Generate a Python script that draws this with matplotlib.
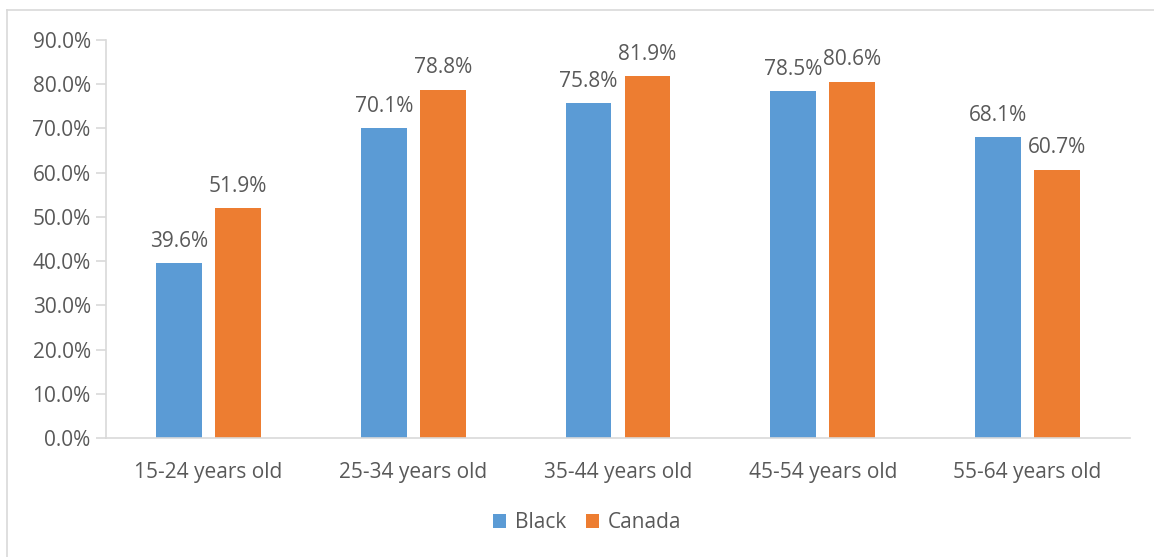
import matplotlib.pyplot as plt
import numpy as np

categories = ['15-24 years old', '25-34 years old', '35-44 years old',
              '45-54 years old', '55-64 years old']
black = [39.6, 70.1, 75.8, 78.5, 68.1]
canada = [51.9, 78.8, 81.9, 80.6, 60.7]

plt.rcParams['font.family'] = ['Open Sans', 'DejaVu Sans']
txt = '#595959'
fs = 15

fig = plt.figure(figsize=(11.54, 5.57), dpi=100)
W, H = 1154, 557

# chart frame (left and top edges only show)
fig.add_artist(plt.Line2D([7 / W, 7 / W], [0, 1 - 10 / H], transform=fig.transFigure,
                          color='#d9d9d9', lw=1.2))
fig.add_artist(plt.Line2D([7 / W, 1], [1 - 10 / H, 1 - 10 / H], transform=fig.transFigure,
                          color='#d9d9d9', lw=1.2))

ax = fig.add_axes([106 / W, 1 - 438 / H, (1130 - 106) / W, (438 - 40) / H])

x = np.arange(len(categories))
w = 0.224
off = 0.144
b1 = ax.bar(x - off, black, w, color='#5B9BD5', label='Black')
b2 = ax.bar(x + off, canada, w, color='#ED7D31', label='Canada')

for bars, vals in ((b1, black), (b2, canada)):
    for r, v in zip(bars, vals):
        ax.annotate(f'{v:.1f}%', (r.get_x() + r.get_width() / 2, v),
                    xytext=(0, 8), textcoords='offset points',
                    ha='center', va='bottom', fontsize=fs, color=txt)

ax.set_xlim(-0.5, len(categories) - 0.5)
ax.set_ylim(0, 90)
ax.set_yticks(np.arange(0, 91, 10))
ax.set_yticklabels([f'{t:.1f}%' for t in np.arange(0, 91, 10)])
ax.set_xticks(x)
ax.set_xticklabels(categories)

for s in ('top', 'right'):
    ax.spines[s].set_visible(False)
for s in ('left', 'bottom'):
    ax.spines[s].set_color('#d9d9d9')
    ax.spines[s].set_linewidth(1.2)
ax.tick_params(axis='y', colors='#d9d9d9', labelcolor=txt, labelsize=fs,
               length=7, width=1.2, pad=4)
ax.tick_params(axis='x', length=0, labelcolor=txt, labelsize=fs, pad=17)

fig.legend(loc='center', bbox_to_anchor=(587 / W, 1 - 523 / H), ncol=2,
           frameon=False, fontsize=fs, labelcolor=txt, handlelength=0.65,
           handleheight=0.65, handletextpad=0.4, columnspacing=0.95)

fig.savefig('out.png', dpi=100)
